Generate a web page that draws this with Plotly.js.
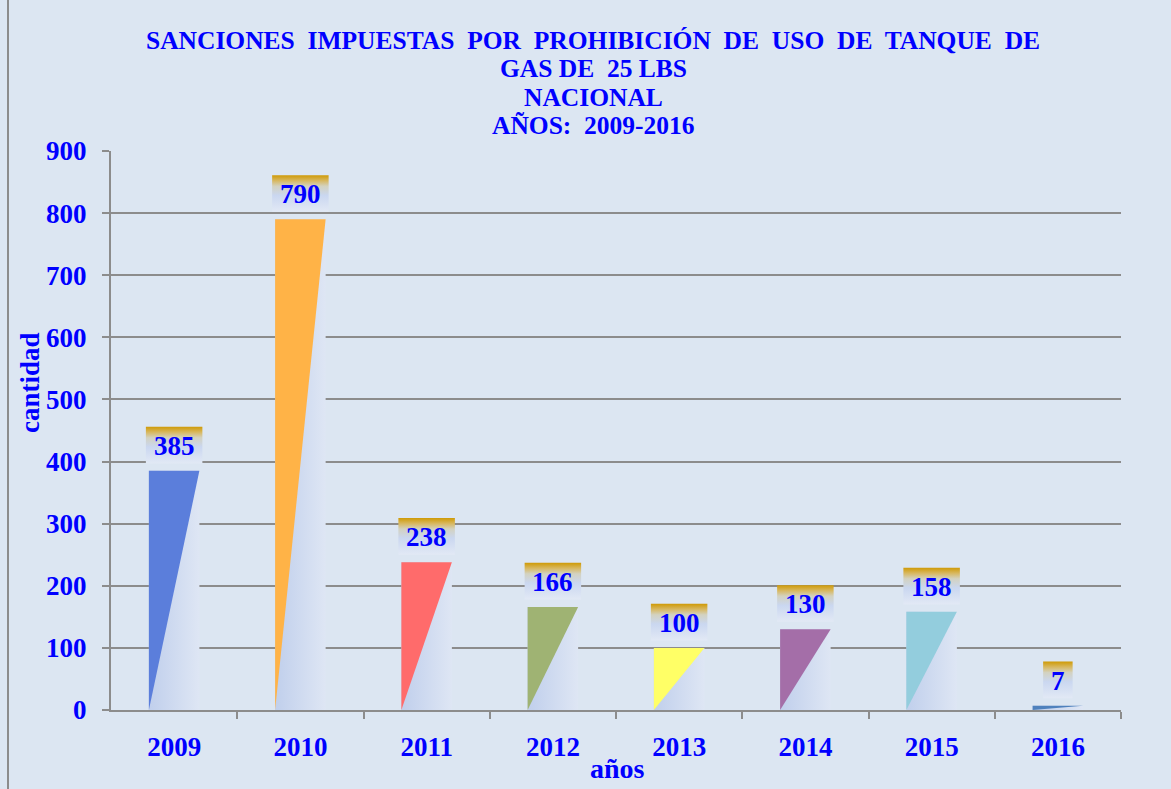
<!DOCTYPE html>
<html><head><meta charset="utf-8">
<script src="https://cdn.plot.ly/plotly-3.0.1.min.js"></script>
<style>
body{margin:0;background:#dce6f2;overflow:hidden;}
#chart{width:1171px;height:789px;}
#edge{position:absolute;left:7px;top:0;width:2px;height:789px;background:#8c8c8c;}
</style>
</head><body>
<div id="chart"></div><div id="edge"></div>
<script>
const years = ['2009','2010','2011','2012','2013','2014','2015','2016'];
const values = [385, 790, 238, 166, 100, 130, 158, 7];
const barColors = ['#5b7edb','#ffb347','#ff6b6b','#9fb373','#ffff66','#a46ea8','#93cddd','#4f81bd'];
const yTicks = [0,100,200,300,400,500,600,700,800,900];
const titleLines = [
  'SANCIONES\u00a0 IMPUESTAS\u00a0 POR\u00a0 PROHIBICIÓN\u00a0 DE\u00a0 USO\u00a0 DE\u00a0 TANQUE\u00a0 DE',
  'GAS DE\u00a0 25\u00a0LBS',
  'NACIONAL',
  'AÑOS:\u00a0 2009-2016'
];
const yTitle = 'cantidad';
const xTitle = 'años';

const BLUE = '#0000ff';
const FONT = 'Liberation Serif, Times New Roman, serif';
const GRAY = '#8c8c8c';
const half = 0.2;

const traces = [];
const annotations = [];
values.forEach((v, i) => {
  traces.push({
    type:'scatter', mode:'lines', hoverinfo:'skip',
    x:[i-half, i+half, i+half, i-half, i-half],
    y:[0, 0, v, v, 0],
    fill:'toself',
    fillgradient:{type:'horizontal', colorscale:[[0,'#c0cfec'],[1,'#dee6f4']]},
    line:{width:0, color:'rgba(0,0,0,0)'}
  });
  traces.push({
    type:'scatter', mode:'lines', hoverinfo:'skip',
    x:[i-half, i-half, i+half, i-half],
    y:[0, v, v, 0],
    fill:'toself', fillcolor:barColors[i],
    line:{width:0, color:'rgba(0,0,0,0)'}
  });
  const label = String(v);
  const w = (16 + 13.5*label.length) / 2 / 126.25;
  traces.push({
    type:'scatter', mode:'lines', hoverinfo:'skip',
    x:[i-w, i+w, i+w, i-w, i-w],
    y:[v+12, v+12, v+71, v+71, v+12],
    fill:'toself',
    fillgradient:{type:'vertical', colorscale:[[0,'#e2e9f5'],[0.45,'#cad7f0'],[0.7,'#d3d2c0'],[0.85,'#d8b860'],[1,'#cf9a06']]},
    line:{width:0, color:'rgba(0,0,0,0)'}
  });
  annotations.push({
    x:i, y:v, xref:'x', yref:'y', text:label, showarrow:false,
    yanchor:'middle', yshift:25,
    font:{family:FONT, size:27, color:BLUE, weight:'bold'}
  });
});

const titleY = [1.1968, 1.1467, 1.0966, 1.0465];
titleLines.forEach((t, k) => {
  annotations.push({
    x:0.4777, y:titleY[k], xref:'paper', yref:'paper', xanchor:'center', yanchor:'middle',
    text:t, showarrow:false,
    font:{family:FONT, size:25.5, color:BLUE, weight:'bold'}
  });
});
annotations.push({
  x:-0.0802, y:0.5868, xref:'paper', yref:'paper', xanchor:'center', yanchor:'middle',
  text:yTitle, textangle:-90, showarrow:false,
  font:{family:FONT, size:27, color:BLUE, weight:'bold'}
});
annotations.push({
  x:0.5015, y:-0.1055, xref:'paper', yref:'paper', xanchor:'center', yanchor:'middle',
  text:xTitle, showarrow:false,
  font:{family:FONT, size:28, color:BLUE, weight:'bold'}
});

const layout = {
  width:1171, height:789,
  paper_bgcolor:'#dce6f2', plot_bgcolor:'#dce6f2',
  showlegend:false,
  margin:{l:111, r:50, t:151, b:79},
  xaxis:{
    range:[-0.5, 7.5], tickmode:'array', tickvals:years.map((_,i)=>i), ticktext:years,
    ticks:'', showgrid:false, zeroline:false,
    showline:true, linecolor:GRAY, linewidth:2,
    tickfont:{family:FONT, size:27, color:BLUE, weight:'bold'},
    ticklabelstandoff:12,
    minor:{tickmode:'array', tickvals:years.map((_,i)=>i+0.5), ticks:'outside', ticklen:7, tickwidth:2, tickcolor:GRAY, showgrid:false},
    fixedrange:true
  },
  yaxis:{
    range:[0, 900], tickmode:'array', tickvals:yTicks,
    showgrid:true, gridcolor:GRAY, gridwidth:2, zeroline:false,
    showline:true, linecolor:GRAY, linewidth:2,
    ticks:'outside', ticklen:7, tickwidth:2, tickcolor:GRAY,
    tickfont:{family:FONT, size:27, color:BLUE, weight:'bold'},
    ticklabelstandoff:10,
    fixedrange:true
  },
  annotations:annotations
};

Plotly.newPlot('chart', traces, layout, {displayModeBar:false, staticPlot:true});
</script>
</body></html>
